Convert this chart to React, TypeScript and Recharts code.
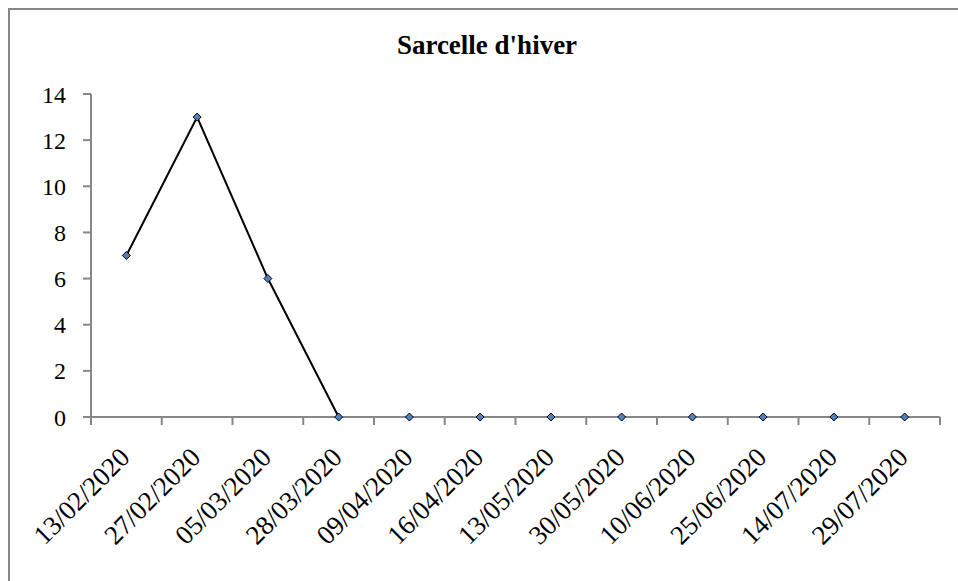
import { LineChart, Line, XAxis, YAxis } from 'recharts';

const dates = [
  '13/02/2020', '27/02/2020', '05/03/2020', '28/03/2020', '09/04/2020', '16/04/2020',
  '13/05/2020', '30/05/2020', '10/06/2020', '25/06/2020', '14/07/2020', '29/07/2020',
];
const counts = [7, 13, 6, 0, 0, 0, 0, 0, 0, 0, 0, 0];
const yTicks = [0, 2, 4, 6, 8, 10, 12, 14];
const boundaryTicks = [0, 1, 2, 3, 4, 5, 6, 7, 8, 9, 10, 11, 12];

const data = dates.map((date, i) => ({ date, pos: i + 0.5, count: counts[i] }));

const FONT = '"Liberation Serif", "Times New Roman", serif';
const AXIS_GRAY = '#878787';

const Diamond = (props: any) => {
  const { cx, cy } = props;
  if (cx == null || cy == null) return null;
  const r = 4;
  return (
    <polygon
      points={`${cx},${cy - r} ${cx + r},${cy} ${cx},${cy + r} ${cx - r},${cy}`}
      fill="#4f81bd"
      stroke="#000"
      strokeWidth={1}
    />
  );
};

const DateTick = (props: any) => {
  const { x, y, payload } = props;
  return (
    <text
      x={x + 5}
      y={y}
      textAnchor="end"
      transform={`rotate(-45, ${x + 5}, ${y})`}
      fontFamily={FONT}
      fontSize={27}
      fill="#000"
    >
      {payload.value}
    </text>
  );
};

export default function App() {
  return (
    <div style={{ position: 'absolute', left: 0, top: 0, width: 958, height: 581, background: '#fff', overflow: 'hidden' }}>
      <div
        style={{
          position: 'absolute',
          left: 8,
          top: 8,
          width: 950,
          height: 573,
          borderLeft: `2px solid ${AXIS_GRAY}`,
          borderTop: `2px solid ${AXIS_GRAY}`,
        }}
      />
      <div
        style={{
          position: 'absolute',
          left: 0,
          width: 974,
          top: 30,
          textAlign: 'center',
          fontFamily: FONT,
          fontWeight: 'bold',
          fontSize: 27,
          lineHeight: '30px',
        }}
      >
        Sarcelle d'hiver
      </div>
      <div style={{ position: 'absolute', left: 0, top: 0 }}>
        <LineChart width={958} height={581} data={data} margin={{ top: 94, right: 18, left: 0, bottom: 26 }}>
          <XAxis
            xAxisId="b"
            dataKey="date"
            type="category"
            scale="band"
            interval={0}
            height={130}
            axisLine={false}
            tickLine={false}
            tickSize={0}
            tickMargin={34}
            tick={<DateTick />}
          />
          <XAxis
            xAxisId="a"
            type="number"
            dataKey="pos"
            domain={[0, 12]}
            ticks={boundaryTicks}
            tickFormatter={() => ''}
            height={8}
            tickSize={8}
            stroke={AXIS_GRAY}
            axisLine={{ stroke: AXIS_GRAY, strokeWidth: 2 }}
            tickLine={{ stroke: AXIS_GRAY, strokeWidth: 2 }}
          />
          <YAxis
            domain={[0, 14]}
            ticks={yTicks}
            width={91}
            tickSize={8}
            tickMargin={17}
            axisLine={{ stroke: AXIS_GRAY, strokeWidth: 2 }}
            tickLine={{ stroke: AXIS_GRAY, strokeWidth: 2 }}
            tick={{ fontFamily: FONT, fontSize: 24, fill: '#000' }}
            interval={0}
          />
          <Line
            xAxisId="b"
            dataKey="count"
            stroke="none"
            dot={false}
            activeDot={false}
            isAnimationActive={false}
            legendType="none"
          />
          <Line
            xAxisId="a"
            dataKey="count"
            stroke="#000"
            strokeWidth={2}
            dot={<Diamond />}
            activeDot={false}
            isAnimationActive={false}
          />
        </LineChart>
      </div>
    </div>
  );
}
